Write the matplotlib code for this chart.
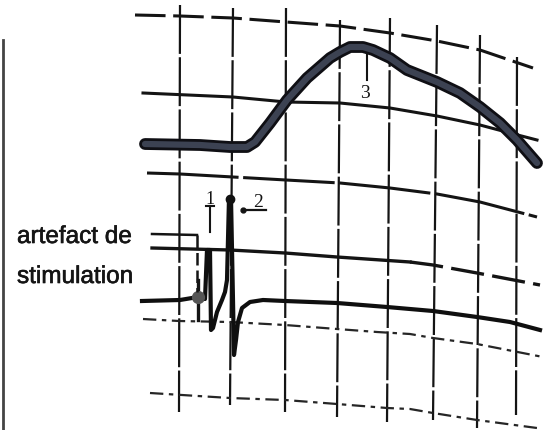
import matplotlib.pyplot as plt
import matplotlib.patheffects as pe
import numpy as np

# coordinates (pixel units, y downwards)

# vertical grid lines: x at top / bottom, y of top / bottom end
vgrid_x_top = [180, 233, 286, 340, 390, 437, 480, 517]
vgrid_x_bot = [179, 230, 285, 337, 387, 433, 477, 516]
vgrid_y_top = [5, 8, 8, 20, 18, 25, 35, 57]
vgrid_y_bot = [412, 405, 412, 417, 422, 420, 428, 415]

# curved horizontal grid lines
h1_x = [135, 180, 233, 286, 340, 390, 437, 480, 533]
h1_y = [15, 16, 18, 22, 26, 33, 41, 50, 68]
h2_x = [143, 233, 286, 340, 390, 437, 480, 510, 537]
h2_y = [93, 97, 102, 103, 108, 116, 125, 133, 140]
h3_x = [147, 180, 286, 340, 390, 437, 480, 537]
h3_y = [173, 174, 180, 183, 188, 194, 202, 217]
h4_x = [152, 230, 285, 337, 410, 433, 477, 540]
h4_y = [248, 250, 253, 257, 262, 265, 273, 285]
h5_x = [143, 179, 230, 285, 337, 377, 410, 433, 477, 543]
h5_y = [319, 321, 322, 325, 329, 332, 334, 338, 344, 357]
h6_x = [150, 230, 285, 337, 387, 410, 433, 477, 537]
h6_y = [393, 398, 400, 404, 408, 409, 413, 420, 428]

# upper trace (slow potential)
trace1_x = [145, 200, 230, 247, 255, 270, 287, 307, 330, 340, 350, 363, 373,
            390, 407, 437, 460, 480, 500, 517, 537]
trace1_y = [144, 145, 147, 147, 142, 123, 100, 78, 58, 52, 47, 47, 50,
            58, 70, 82, 93, 107, 123, 140, 163]

# lower trace (stimulation artefact + spike)
trace2_x = [142, 180, 192, 198, 205, 207, 210, 211, 213, 217, 222, 225, 227,
            229, 231, 233, 234, 236, 238, 242, 250, 263, 285, 337, 387, 410,
            433, 477, 510, 540]
trace2_y = [301, 300, 298, 297, 299, 250, 250, 330, 328, 312, 300, 292, 280,
            198, 198, 300, 355, 340, 322, 308, 302, 300, 301, 303, 307, 309,
            311, 317, 322, 330]

fig = plt.figure(figsize=(5.46, 4.30), dpi=100)
ax = fig.add_axes([0, 0, 1, 1])
ax.set_xlim(0, 546)
ax.set_ylim(430, 0)
ax.axis('off')

ink = '#141414'

# left border of the scan
ax.plot([3, 3], [40, 430], color='#444444', lw=2.0)

for xt, xb, yt, yb in zip(vgrid_x_top, vgrid_x_bot, vgrid_y_top, vgrid_y_bot):
    ax.plot([xt, xb], [yt, yb], color=ink, lw=1.6, dashes=(22, 1.5))

ax.plot(h1_x, h1_y, color=ink, lw=2.2, dashes=(10, 2.5))
ax.plot(h2_x, h2_y, color=ink, lw=2.2)
ax.plot(h3_x, h3_y, color=ink, lw=2.2, dashes=(30, 1.5))
ax.plot(h4_x[:5], h4_y[:5], color=ink, lw=2.4)
ax.plot(h4_x[4:], h4_y[4:], color=ink, lw=2.4, dashes=(10, 2.5))
ax.plot(h5_x, h5_y, color='#262626', lw=1.6, dashes=(6, 2.5, 2, 2.5))
ax.plot(h6_x, h6_y, color='#262626', lw=1.6, dashes=(6, 2.5, 2, 2.5))

# traces
ax.plot(trace1_x, trace1_y, color='#0f0f14', lw=8.5,
        solid_capstyle='round', solid_joinstyle='round')
ax.plot(trace1_x, trace1_y, color='#3c4252', lw=4.5,
        solid_capstyle='round', solid_joinstyle='round')
ax.plot(trace2_x, trace2_y, color='#0f0f0f', lw=3.0, solid_joinstyle='round')

# artefact blob and spike top
ax.plot([198, 198], [280, 320], color=ink, lw=2.4)
ax.plot(198, 297, 'o', ms=8.5, color='#555555')
ax.plot(230, 199, 'o', ms=6, color='#111111')

# leader from the label to the artefact
ax.plot([152, 197], [234, 235], color=ink, lw=1.8)
ax.plot([197, 197], [235, 292], color=ink, lw=1.8, dashes=(5, 2))

bold = [pe.withStroke(linewidth=0.45, foreground='#151515')]
ax.text(17, 243, 'artefact de', fontsize=17.5, family='Liberation Sans',
        color='#151515', va='baseline', ha='left', path_effects=bold)
ax.text(17, 283, 'stimulation', fontsize=17.5, family='Liberation Sans',
        color='#151515', va='baseline', ha='left', path_effects=bold)

# numbered marks
ax.text(210, 204, '1', fontsize=13, family='Liberation Serif', color=ink,
        ha='center', va='baseline')
ax.plot([206, 214], [206, 206], color=ink, lw=1.5)
ax.plot([210, 210], [206, 232], color=ink, lw=1.5)

ax.text(258, 207, '2', fontsize=14, family='Liberation Serif', color=ink,
        ha='center', va='baseline')
ax.plot([243, 266], [210, 210], color=ink, lw=1.6)
ax.plot(243, 210, 'o', ms=3.5, color=ink)

ax.text(365, 98, '3', fontsize=14, family='Liberation Serif', color=ink,
        ha='center', va='baseline')
ax.plot([367, 367], [55, 80], color=ink, lw=1.5)

fig.savefig('out.png', dpi=100, facecolor='white')
